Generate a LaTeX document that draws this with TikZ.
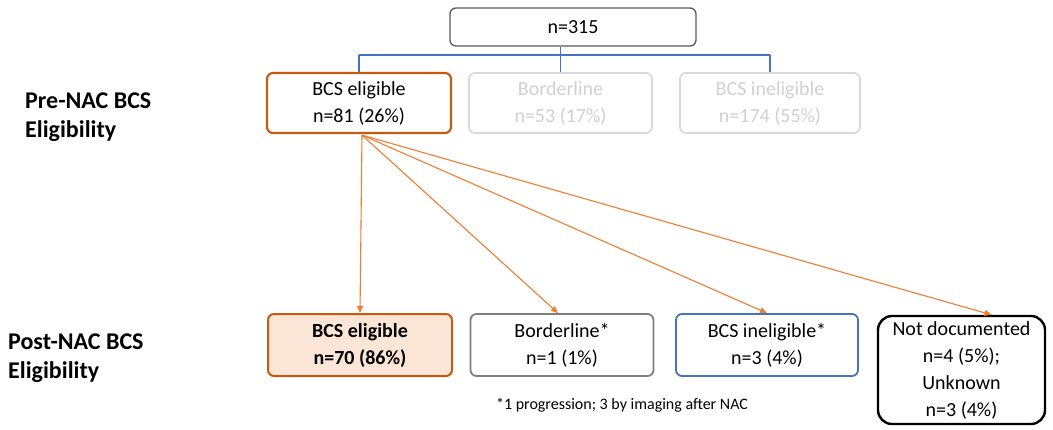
\documentclass[tikz,border=0pt]{standalone}
\usepackage{fontspec}
\setmainfont{Carlito}
\usetikzlibrary{arrows.meta,calc}
\definecolor{borange}{HTML}{C55A11}
\definecolor{aorange}{HTML}{ED7D31}
\definecolor{forange}{HTML}{FBE5D6}
\definecolor{bblue}{HTML}{4472C4}
\definecolor{lgrey}{HTML}{D9D9D9}
\definecolor{tgrey}{HTML}{D0D0D0}
\definecolor{mgrey}{HTML}{7F7F7F}
\definecolor{dgrey}{HTML}{595959}
\tikzset{
  box/.style={draw, rounded corners=6pt, align=center, inner sep=0pt,
    font=\fontsize{20}{27}\selectfont, line width=1.8pt},
  rowlabel/.style={align=left, anchor=west, inner sep=0pt,
    font=\fontsize{24}{29}\selectfont\bfseries},
  blueline/.style={draw=bblue, line width=1.2pt},
  oarrow/.style={draw=aorange, line width=1.1pt, -{Triangle[length=7pt,width=6pt]}},
}
\begin{document}
\begin{tikzpicture}[x=1pt,y=-1pt]
\useasboundingbox (0,0) rectangle (1053,429);
% top
\node[box, draw=dgrey, line width=1.3pt, minimum width=246pt, minimum height=38pt] (top) at (573,27) {n=315};
% pre-NAC row
\node[box, draw=borange, line width=2.2pt, minimum width=184pt, minimum height=60pt] (pe) at (359,103) {BCS eligible\\n=81 (26\%)};
\node[box, draw=lgrey, text=tgrey, minimum width=183pt, minimum height=60pt] (pb) at (560.5,103) {Borderline\\n=53 (17\%)};
\node[box, draw=lgrey, text=tgrey, minimum width=180pt, minimum height=60pt] (pi) at (770,103) {BCS ineligible\\n=174 (55\%)};
% post-NAC row
\node[box, draw=borange, fill=forange, line width=2pt, minimum width=184pt, minimum height=62pt, font=\fontsize{20}{27}\selectfont\bfseries] (qe) at (360,345) {BCS eligible\\n=70 (86\%)};
\node[box, draw=mgrey, minimum width=183pt, minimum height=62pt] (qb) at (562,345) {Borderline*\\n=1 (1\%)};
\node[box, draw=bblue, minimum width=182pt, minimum height=62pt] (qi) at (767,345) {BCS ineligible*\\n=3 (4\%)};
\node[box, draw=black, line width=2.4pt, rounded corners=14pt, minimum width=167pt, minimum height=108pt] (nd) at (961.5,370) {Not documented\\n=4 (5\%);\\Unknown\\n=3 (4\%)};
% labels
\node[rowlabel] (lpre) at (25,117) {Pre-NAC BCS\\Eligibility};
\node[rowlabel] (lpost) at (8,358) {Post-NAC BCS\\Eligibility};
\node[font=\fontsize{16}{19}\selectfont, inner sep=0pt] (fn) at (622,405) {*1 progression; 3 by imaging after NAC};
% blue tree
\coordinate (hub) at (560,55);
\draw[blueline] (pb.north |- top.south) -- (pb.north);
\draw[blueline] (pe.north |- hub) -- (pi.north |- hub);
\draw[blueline] (pe.north |- hub) -- (pe.north);
\draw[blueline] (pi.north |- hub) -- (pi.north);
% orange arrows
\coordinate (src) at ($(pe.south)+(3,1)$);
\draw[oarrow] (src) -- (qe.north);
\draw[oarrow] (src) -- ($(qb.north)+(-4,0)$);
\draw[oarrow] (src) -- (qi.north);
\draw[oarrow] (src) -- ($(nd.north)+(30,0)$);
\end{tikzpicture}
\end{document}
